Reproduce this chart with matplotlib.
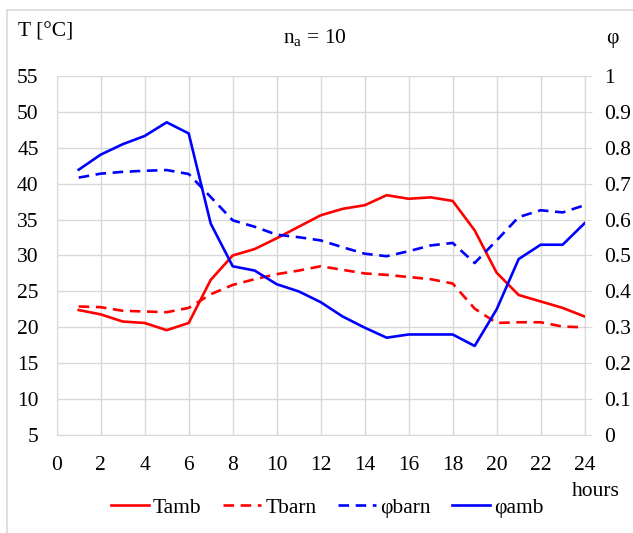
import matplotlib
matplotlib.use("Agg")
import matplotlib.pyplot as plt
from matplotlib.patches import Rectangle

plt.rcParams['font.family'] = ['Liberation Serif', 'DejaVu Serif']
plt.rcParams['mathtext.fontset'] = 'custom'
plt.rcParams['mathtext.rm'] = 'Liberation Serif'

# hourly data
hours = list(range(1, 25))
t_amb = [22.4, 21.8, 20.8, 20.6, 19.6, 20.6, 26.6, 30.0, 30.9, 32.4, 34.0, 35.6,
         36.5, 37.0, 38.4, 37.9, 38.1, 37.6, 33.5, 27.6, 24.5, 23.6, 22.7, 21.5]
t_barn = [22.9, 22.8, 22.3, 22.2, 22.1, 22.7, 24.6, 25.9, 26.7, 27.4, 27.9, 28.5,
          28.0, 27.5, 27.3, 27.0, 26.7, 26.1, 22.6, 20.6, 20.7, 20.7, 20.1, 20.0]
phi_barn = [0.717, 0.728, 0.733, 0.736, 0.738, 0.727, 0.663, 0.598, 0.580, 0.558, 0.551, 0.542,
            0.523, 0.505, 0.498, 0.512, 0.528, 0.535, 0.479, 0.542, 0.607, 0.626, 0.620, 0.640]
phi_amb = [0.739, 0.781, 0.810, 0.833, 0.871, 0.840, 0.589, 0.470, 0.458, 0.420, 0.400, 0.370,
           0.330, 0.299, 0.271, 0.280, 0.280, 0.280, 0.248, 0.350, 0.490, 0.530, 0.530, 0.590]

x_ticks = list(range(0, 25, 2))
left_ticks = list(range(5, 56, 5))
right_ticks = [0, 0.1, 0.2, 0.3, 0.4, 0.5, 0.6, 0.7, 0.8, 0.9, 1]
right_labels = ['0', '0.1', '0.2', '0.3', '0.4', '0.5', '0.6', '0.7', '0.8', '0.9', '1']

fs = 15.5
grid_col = '#d9d9d9'

fig = plt.figure(figsize=(6.33, 5.33), dpi=100)
ax = fig.add_axes([0.0896, 0.1839, 0.834, 0.6735])
ax2 = ax.twinx()

# temperature on the left axis
l1, = ax.plot(hours, t_amb, color='#ff0000', lw=1.9, label='Tamb')
l2, = ax.plot(hours, t_barn, color='#ff0000', lw=1.9, ls=(0, (4, 2.5)), label='Tbarn')

# relative humidity on the right axis
l3, = ax2.plot(hours, phi_barn, color='#0000ff', lw=1.9, ls=(0, (4, 2.5)), label='φbarn')
l4, = ax2.plot(hours, phi_amb, color='#0000ff', lw=1.9, label='φamb')

ax.set_xlim(0, 24)
ax.set_ylim(5, 55)
ax2.set_ylim(0, 1)
ax.set_xticks(x_ticks)
ax.set_yticks(left_ticks)
ax2.set_yticks(right_ticks)
ax2.set_yticklabels(right_labels)

ax.grid(True, color=grid_col, lw=1)
ax.set_axisbelow(True)
for a in (ax, ax2):
  for s in a.spines.values():
    s.set_visible(False)
ax.spines['left'].set_visible(True)
ax.spines['bottom'].set_visible(True)
ax2.spines['right'].set_visible(True)
for s in ('left', 'bottom'):
  ax.spines[s].set_color(grid_col)
ax2.spines['right'].set_color(grid_col)

ax.tick_params(axis='x', length=0, pad=15, labelsize=fs)
ax.tick_params(axis='y', length=0, pad=13, labelsize=fs)
ax2.tick_params(axis='y', length=5, color=grid_col, pad=9, labelsize=fs)

# labels around the plot
fig.text(18 / 633, 1 - 32 / 533, 'T [°C]', fontsize=fs, va='center', ha='left')
fig.text(315 / 633, 1 - 38 / 533, r'n$_{\mathrm{a}}$ = 10', fontsize=fs, va='center', ha='center')
fig.text(612 / 633, 1 - 38 / 533, 'φ', fontsize=fs, va='center', ha='center')
fig.text(596 / 633, 1 - 492 / 533, 'hours', fontsize=fs, va='center', ha='center')

fig.legend(handles=[l1, l2, l3, l4], loc='center', bbox_to_anchor=(0.517, 1 - 508 / 533),
           ncol=4, frameon=False, fontsize=fs, handlelength=1.75, handletextpad=0.2,
           columnspacing=1.0)

# outer frame, right and bottom edges fall outside the image
fig.patches.append(Rectangle((7 / 633, -10 / 533), 640 / 633, 533 / 533,
                             transform=fig.transFigure, fill=False,
                             edgecolor='#d9d9d9', lw=1.2))

fig.savefig('out.png', dpi=100)
